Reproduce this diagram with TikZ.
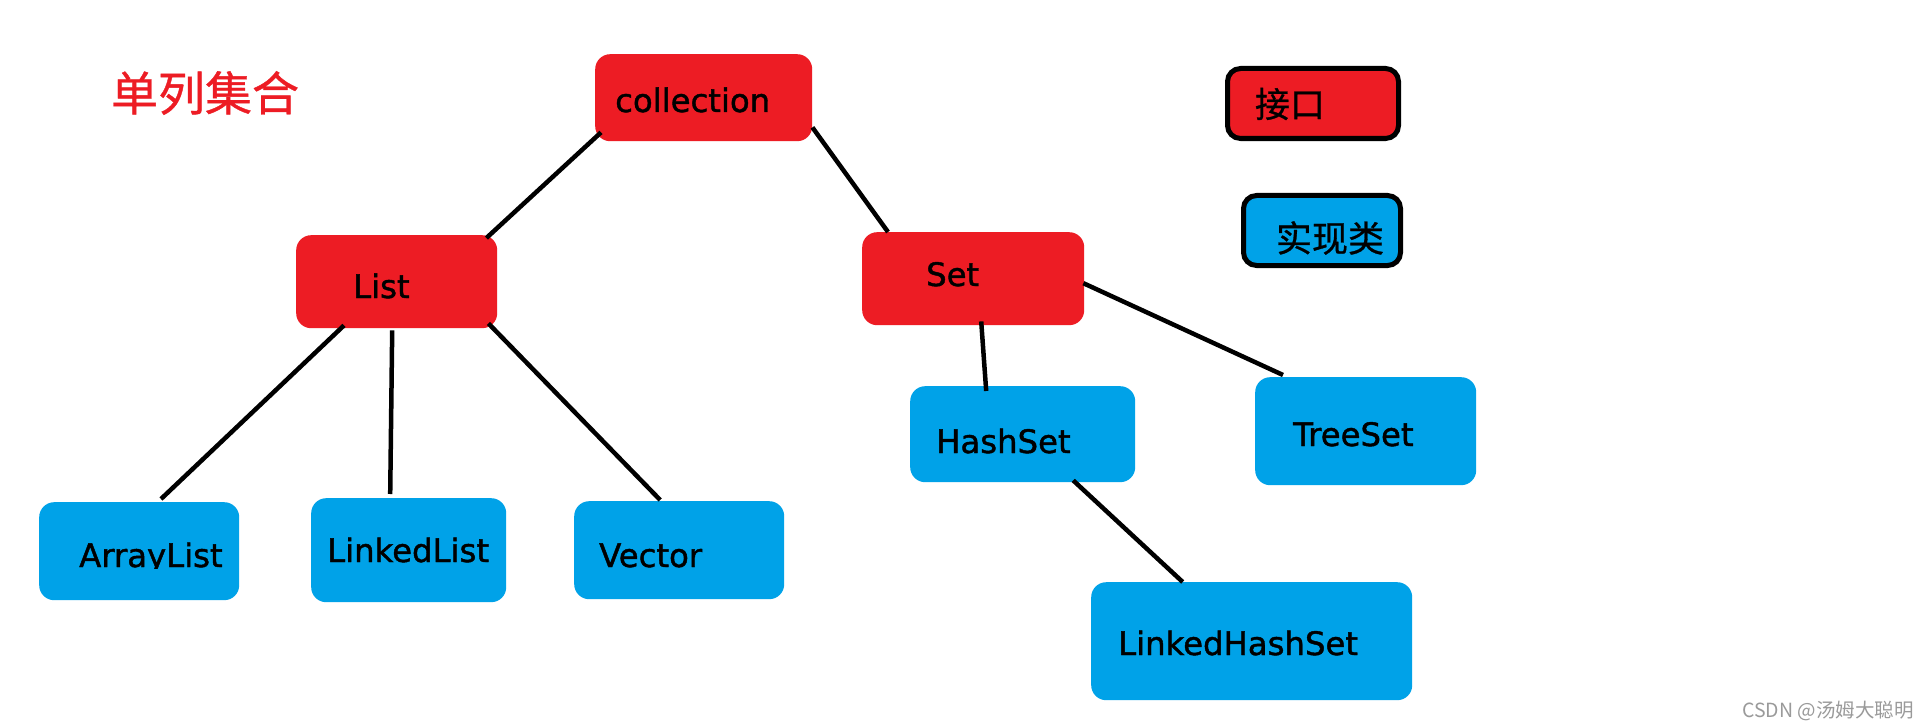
\documentclass[tikz,border=0pt]{standalone}
\usepackage{fontspec}
\usetikzlibrary{calc}
\newfontfamily\dvfont[FakeBold=1.3]{DejaVu Sans}
\newfontfamily\cjkfont{Noto Sans CJK SC}
\newfontfamily\cjkboldish[FakeBold=0.8]{Noto Sans CJK SC}
\definecolor{paintred}{HTML}{ED1C24}
\definecolor{paintblue}{HTML}{00A2E8}
\definecolor{wmgray}{HTML}{9A9A9A}
\tikzset{
  boxbase/.style={rectangle, inner sep=0pt, rounded corners=15bp, anchor=north west},
  redbox/.style={boxbase, fill=paintred},
  bluebox/.style={boxbase, fill=paintblue},
  legendbox/.style={rectangle, inner sep=0pt, rounded corners=13bp, draw=black, line width=5bp},
  lbl/.style={inner sep=0pt, anchor=base west, text=black, font=\dvfont\fontsize{32.3bp}{38bp}\selectfont},
  cjklbl/.style={inner sep=0pt, anchor=center, font=\cjkboldish\fontsize{36bp}{42bp}\selectfont},
  conn/.style={draw=black, line width=4.5bp}
}
\begin{document}
\begin{tikzpicture}[x=1bp,y=-1bp]
\useasboundingbox (0,0) rectangle (1929,728);
\fill[white] (0,0) rectangle (1929,728);

% title
\node[cjklbl, text=paintred, font=\cjkboldish\fontsize{47bp}{52bp}\selectfont] (title) at (205,93) {单列集合};

% boxes
\node[redbox, minimum width=217bp, minimum height=87bp] (cb) at (595,54) {};
\node[redbox, minimum width=201bp, minimum height=93bp] (lb) at (296,235) {};
\node[redbox, minimum width=222bp, minimum height=93bp] (sb) at (862,232) {};
\node[bluebox, minimum width=200bp, minimum height=98bp] (ab) at (39,502) {};
\node[bluebox, minimum width=195bp, minimum height=104bp] (llb) at (311,498) {};
\node[bluebox, minimum width=210bp, minimum height=98bp] (vb) at (574,501) {};
\node[bluebox, minimum width=225bp, minimum height=96bp] (hb) at (910,386) {};
\node[bluebox, minimum width=221bp, minimum height=108bp] (tb) at (1255,377) {};
\node[bluebox, minimum width=321bp, minimum height=118bp] (lhb) at (1091,582) {};

% labels
\node[lbl] (ct) at (615,112) {collection};
\node[lbl] (lt) at (353,298) {List};
\node[lbl] (st) at (926,286) {Set};
\begin{scope}
  \clip (60,520) rectangle (240,568);
  \node[lbl] (at) at (79,567) {ArrayList};
\end{scope}
\node[lbl] (llt) at (327,562) {LinkedList};
\node[lbl] (vt) at (599,567) {Vector};
\node[lbl] (ht) at (936,453) {HashSet};
\node[lbl] (tt) at (1293,446) {TreeSet};
\node[lbl] (lht) at (1118,655) {LinkedHashSet};

% connectors
\draw[conn] ($(cb.south west)+(6,-9)$) -- ($(lb.north east)+(-11,3)$);
\draw[conn] ($(cb.south east)+(0,-14)$) -- ($(sb.north west)+(26,0)$);
\draw[conn] ($(lb.south west)+(48,-3)$) -- ($(ab.north west)+(122,-3)$);
\draw[conn] ($(lb.south)+(-4.5,2)$) -- ($(llb.north)+(-18.5,-4)$);
\draw[conn] ($(lb.south east)+(-9,-5)$) -- ($(vb.north)+(-19,-1)$);
\draw[conn] ($(sb.south)+(8,-4)$) -- ($(hb.north)+(-36.5,5)$);
\draw[conn] ($(sb.east)+(-1,4.5)$) -- ($(tb.north west)+(28,-2)$);
\draw[conn] ($(hb.south)+(50.5,-2)$) -- ($(lhb.north)+(-69,0)$);

% legend
\node[legendbox, fill=paintred, minimum width=171bp, minimum height=70bp] (lgi) at (1313,103.5) {};
\node[cjklbl, font=\cjkboldish\fontsize{35bp}{40bp}\selectfont] (lgit) at (1290,104) {接口};
\node[legendbox, fill=paintblue, minimum width=157bp, minimum height=70bp] (lgc) at (1322,230.5) {};
\node[cjklbl] (lgct) at (1330,238) {实现类};

% watermark
\node[inner sep=0pt, anchor=center, text=wmgray, font=\cjkfont\fontsize{19.5bp}{22bp}\selectfont] (wm) at (1828,711) {CSDN @汤姆大聪明};
\end{tikzpicture}
\end{document}
